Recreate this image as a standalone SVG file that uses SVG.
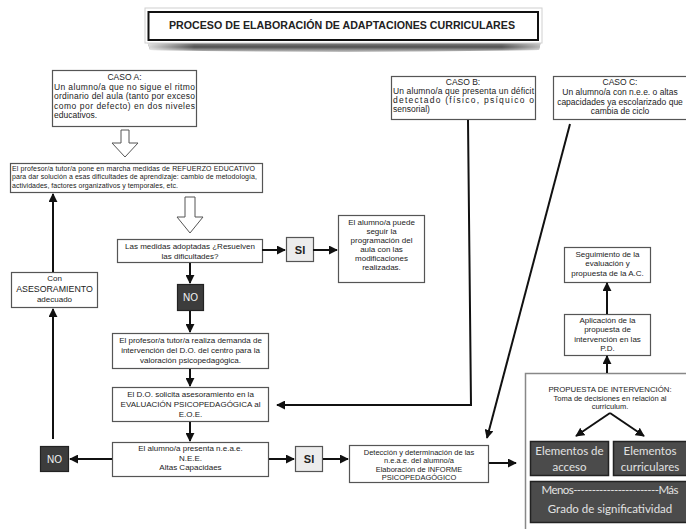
<svg xmlns="http://www.w3.org/2000/svg" width="686" height="529" viewBox="0 0 686 529">
<defs>
  <marker id="ah" viewBox="0 0 10 10" refX="9" refY="5" markerWidth="9" markerHeight="9" markerUnits="userSpaceOnUse" orient="auto">
    <path d="M0,0 L10,5 L0,10 Z" fill="#111"/>
  </marker>
  <linearGradient id="shadowV" x1="0" y1="0" x2="0" y2="1">
    <stop offset="0" stop-color="#9a9a9a"/>
    <stop offset="0.55" stop-color="#505050"/>
    <stop offset="1" stop-color="#c8c8c8"/>
  </linearGradient>
  <linearGradient id="shadowH" x1="0" y1="0" x2="1" y2="0">
    <stop offset="0" stop-color="#fff" stop-opacity="0.8"/>
    <stop offset="0.12" stop-color="#fff" stop-opacity="0"/>
    <stop offset="0.9" stop-color="#fff" stop-opacity="0"/>
    <stop offset="1" stop-color="#fff" stop-opacity="0.6"/>
  </linearGradient>
</defs>
<style>
  text { font-family: "Liberation Sans", Arial, sans-serif; fill: #222; }
  .box { fill: #fff; stroke: #555; stroke-width: 1.2; }
  .t8 { font-size: 8px; }
  .t7 { font-size: 7px; }
  .t85 { font-size: 8.5px; }
  .c { text-anchor: middle; }
  .si { fill: #ececec; stroke: #555; stroke-width: 1.2; }
  .sit { font-size: 11px; font-weight: bold; text-anchor: middle; fill: #222; }
  .no { fill: #3c3c3c; stroke: #222; stroke-width: 1.2; }
  .not { font-size: 10px; text-anchor: middle; fill: #f4f4f4; }
  .dark { fill: #4b4b4b; stroke: #222; stroke-width: 1.5; }
  .dt { font-family: Lato, "Open Sans", sans-serif; font-size: 11.5px; text-anchor: middle; fill: #e2e2e2; }
  .conn line, .conn polyline { stroke: #111; stroke-width: 2; fill: none; }
  .hollow { fill: #fff; stroke: #555; stroke-width: 1; }
</style>
<rect width="686" height="529" fill="#fff"/>

<g id="title">
  <path d="M147,41 L541,41 L539,50 Q344,54 150,50 Z" fill="url(#shadowV)"/>
  <path d="M147,41 L541,41 L539,50 Q344,54 150,50 Z" fill="url(#shadowH)"/>
  <rect x="145" y="8" width="397" height="35" fill="#fff" stroke="#d0d0d0" stroke-width="1"/>
  <rect x="148.5" y="12" width="389.5" height="28" fill="none" stroke="#111" stroke-width="2"/>
  <text x="342" y="29" class="c" font-size="10.5" font-weight="bold" textLength="346" lengthAdjust="spacingAndGlyphs">PROCESO DE ELABORACIÓN DE ADAPTACIONES CURRICULARES</text>
</g>

<g id="casoA">
  <rect class="box" x="52.5" y="70.5" width="144" height="56"/>
  <text class="t85 c" x="124.5" y="80">CASO A:</text>
  <text class="t85" x="54" y="89.5" textLength="141">Un alumno/a que no sigue el ritmo</text>
  <text class="t85" x="54" y="99" textLength="141">ordinario del aula (tanto por exceso</text>
  <text class="t85" x="54" y="108.5" textLength="141">como por defecto) en dos niveles</text>
  <text class="t85" x="54" y="118">educativos.</text>
</g>

<g id="casoB">
  <rect class="box" x="391.5" y="76.5" width="144" height="43"/>
  <text class="t85 c" x="463" y="85">CASO B:</text>
  <text class="t85" x="393" y="93.5" textLength="141">Un alumno/a que presenta un déficit</text>
  <text class="t85" x="393" y="102.5" textLength="141" lengthAdjust="spacing">detectado (físico, psíquico o</text>
  <text class="t85" x="393" y="111.5">sensorial)</text>
</g>

<g id="casoC">
  <rect class="box" x="553.5" y="76.5" width="136" height="43"/>
  <text class="t85 c" x="620" y="85">CASO C:</text>
  <text class="t85 c" x="620" y="94.5">Un alumno/a con n.e.e. o altas</text>
  <text class="t85 c" x="620" y="104.5">capacidades ya escolarizado que</text>
  <text class="t85 c" x="620" y="114">cambia de ciclo</text>
</g>

<g id="refuerzo">
  <rect class="box" x="10.5" y="163.5" width="252" height="29"/>
  <text class="t7" x="12" y="170.5" textLength="243">El profesor/a tutor/a pone en marcha medidas de REFUERZO EDUCATIVO</text>
  <text class="t7" x="12" y="179" textLength="245">para dar solución a esas dificultades de aprendizaje: cambio de metodología,</text>
  <text class="t7" x="12" y="187.5" textLength="166">actividades, factores organizativos y temporales, etc.</text>
</g>

<g id="medidas">
  <rect class="box" x="117.5" y="239.5" width="145" height="23"/>
  <text class="t8 c" x="190" y="249">Las medidas adoptadas ¿Resuelven</text>
  <text class="t8 c" x="190" y="259">las dificultades?</text>
</g>

<g id="si1">
  <rect class="si" x="286.5" y="237.5" width="27" height="24"/>
  <text class="sit" x="300" y="253.5">SI</text>
</g>

<g id="alumnoPuede">
  <rect class="box" x="338.5" y="215.5" width="86" height="67"/>
  <text class="t8 c" x="381.5" y="225">El alumno/a puede</text>
  <text class="t8 c" x="381.5" y="234">seguir la</text>
  <text class="t8 c" x="381.5" y="243">programación del</text>
  <text class="t8 c" x="381.5" y="252">aula con las</text>
  <text class="t8 c" x="381.5" y="261">modificaciones</text>
  <text class="t8 c" x="381.5" y="270">realizadas.</text>
</g>

<g id="no1">
  <rect class="no" x="177.5" y="284.5" width="26" height="26"/>
  <text class="not" x="190.5" y="301">NO</text>
</g>

<g id="asesoramiento">
  <rect class="box" x="11.5" y="272.5" width="86" height="35"/>
  <text class="t8 c" x="54.5" y="280.5">Con</text>
  <text class="c" font-size="8.8" x="54.5" y="291.5">ASESORAMIENTO</text>
  <text class="t8 c" x="54.5" y="301.5">adecuado</text>
</g>

<g id="demanda">
  <rect class="box" x="112.5" y="333.5" width="156" height="35"/>
  <text class="t8 c" x="190.5" y="342.5">El profesor/a tutor/a realiza demanda de</text>
  <text class="t8 c" x="190.5" y="352.5">intervención del D.O. del centro para la</text>
  <text class="t8 c" x="190.5" y="362.5">valoración psicopedagógica.</text>
</g>

<g id="doSolicita">
  <rect class="box" x="112.5" y="387.5" width="156" height="34"/>
  <text class="t8 c" x="190.5" y="396.5">El D.O. solicita asesoramiento en la</text>
  <text class="t8 c" x="190.5" y="406.5">EVALUACIÓN PSICOPEDAGÓGICA al</text>
  <text class="t8 c" x="190.5" y="416.5">E.O.E.</text>
</g>

<g id="neae">
  <rect class="box" x="112.5" y="442.5" width="156" height="34"/>
  <text class="t8 c" x="190.5" y="451">El alumno/a presenta n.e.a.e.</text>
  <text class="t8 c" x="190.5" y="460.5">N.E.E.</text>
  <text class="t8 c" x="190.5" y="470">Altas Capacidaes</text>
</g>

<g id="no2">
  <rect class="no" x="40.5" y="446.5" width="28" height="25"/>
  <text class="not" x="54.5" y="462.5">NO</text>
</g>

<g id="si2">
  <rect class="si" x="295.5" y="446.5" width="27" height="25"/>
  <text class="sit" x="309" y="463">SI</text>
</g>

<g id="deteccion">
  <rect class="box" x="349.5" y="445.5" width="139" height="37"/>
  <text class="c" font-size="7.5" x="419" y="454.5">Detección y determinación de las</text>
  <text class="c" font-size="7.5" x="419" y="463">n.e.a.e. del alumno/a</text>
  <text class="c" font-size="7.5" x="419" y="471.5">Elaboración de INFORME</text>
  <text class="c" font-size="7.5" x="419" y="480">PSICOPEDAGÓGICO</text>
</g>

<g id="seguimiento">
  <rect class="box" x="564.5" y="247.5" width="86" height="35"/>
  <text class="t8 c" x="607.5" y="256.5">Seguimiento de la</text>
  <text class="t8 c" x="607.5" y="266">evaluación y</text>
  <text class="t8 c" x="607.5" y="275.5">propuesta de la A.C.</text>
</g>

<g id="aplicacion">
  <rect class="box" x="564.5" y="314.5" width="86" height="41"/>
  <text class="t8 c" x="607.5" y="322.5">Aplicación de la</text>
  <text class="t8 c" x="607.5" y="332">propuesta de</text>
  <text class="t8 c" x="607.5" y="341.5">intervención en las</text>
  <text class="t8 c" x="607.5" y="351">P.D.</text>
</g>

<g id="propuesta">
  <rect x="525.5" y="373.5" width="180" height="170" fill="#fff" stroke="#888" stroke-width="1.5"/>
  <text class="c" font-size="7.8" x="610" y="392">PROPUESTA DE INTERVENCIÓN:</text>
  <text class="c" font-size="7.5" x="610" y="400.5">Toma de decisiones en relación al</text>
  <text class="c" font-size="7.5" x="610" y="409">curriculum.</text>
</g>

<g id="elementosAcceso">
  <rect class="dark" x="530.5" y="441.5" width="78" height="34"/>
  <text class="dt" x="569.5" y="455">Elementos de</text>
  <text class="dt" x="569.5" y="470.5">acceso</text>
</g>

<g id="elementosCurriculares">
  <rect class="dark" x="613.5" y="441.5" width="80" height="34"/>
  <text class="dt" x="650" y="455">Elementos</text>
  <text class="dt" x="650" y="470.5">curriculares</text>
</g>

<g id="significatividad">
  <rect class="dark" x="530.5" y="481.5" width="163" height="41"/>
  <text class="dt" x="610" y="494" textLength="137">Menos-----------------------Más</text>
  <text class="dt" x="610" y="513" font-size="12.5">Grado de significatividad</text>
</g>

<g id="connectors" class="conn">
  <polygon class="hollow" points="121,130 129,130 129,143 138,143 125,157 112,143 121,143"/>
  <polygon class="hollow" points="185,197 195,197 195,217 203,217 190,233 177,217 185,217"/>
  <line x1="262" y1="250" x2="285" y2="250" marker-end="url(#ah)"/>
  <line x1="313" y1="250" x2="337" y2="250" marker-end="url(#ah)"/>
  <line x1="190" y1="263" x2="190" y2="283" marker-end="url(#ah)"/>
  <line x1="190" y1="311" x2="190" y2="332" marker-end="url(#ah)"/>
  <line x1="190" y1="369" x2="190" y2="386" marker-end="url(#ah)"/>
  <line x1="190" y1="422" x2="190" y2="441" marker-end="url(#ah)"/>
  <line x1="112" y1="459" x2="70" y2="459" marker-end="url(#ah)"/>
  <line x1="53" y1="439" x2="53" y2="309" marker-end="url(#ah)"/>
  <line x1="53" y1="272" x2="53" y2="194" marker-end="url(#ah)"/>
  <line x1="269" y1="459" x2="294" y2="459" marker-end="url(#ah)"/>
  <line x1="323" y1="459" x2="348" y2="459" marker-end="url(#ah)"/>
  <polyline points="468,120 471,405 277,405" marker-end="url(#ah)"/>
  <line x1="570" y1="124" x2="487" y2="438" marker-end="url(#ah)"/>
  <line x1="489" y1="463" x2="516" y2="463" marker-end="url(#ah)"/>
  <line x1="607" y1="373" x2="607" y2="356" marker-end="url(#ah)"/>
  <line x1="607" y1="314" x2="607" y2="283" marker-end="url(#ah)"/>
  <line x1="610" y1="413" x2="576" y2="436" marker-end="url(#ah)"/>
  <line x1="610" y1="413" x2="644" y2="436" marker-end="url(#ah)"/>
</g>
</svg>
